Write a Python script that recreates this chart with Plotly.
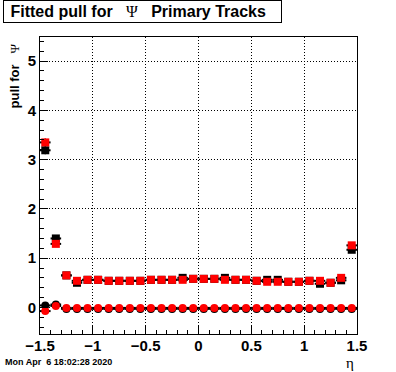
import plotly.graph_objects as go

# Bin centers in eta (30 bins of width 0.1 from -1.5 to 1.5)
eta = [round(-1.45 + 0.1 * i, 2) for i in range(30)]
half_width = [0.05] * 30

# Fitted pull (width) - squares
black_sq = [3.19, 1.40, 0.65, 0.50, 0.56, 0.56, 0.54, 0.54, 0.54, 0.54,
            0.56, 0.56, 0.56, 0.60, 0.58, 0.58, 0.58, 0.60, 0.56, 0.56,
            0.54, 0.56, 0.56, 0.52, 0.52, 0.54, 0.48, 0.50, 0.55, 1.17]
red_sq = [3.35, 1.29, 0.65, 0.54, 0.56, 0.56, 0.54, 0.54, 0.54, 0.54,
          0.56, 0.56, 0.56, 0.56, 0.58, 0.58, 0.58, 0.56, 0.56, 0.56,
          0.54, 0.52, 0.52, 0.52, 0.52, 0.54, 0.54, 0.50, 0.60, 1.26]
# Fitted pull (mean) - circles
black_ci = [0.04, 0.06, -0.03, -0.03, -0.03, -0.03, -0.03, -0.03, -0.03, -0.03,
            -0.03, -0.03, -0.03, -0.03, -0.03, -0.03, -0.03, -0.03, -0.03, -0.03,
            -0.03, -0.03, -0.03, -0.03, -0.03, -0.03, -0.03, -0.03, -0.03, -0.03]
red_ci = [-0.075, 0.03, -0.01, -0.01, -0.01, -0.01, -0.01, -0.01, -0.01, -0.01,
          -0.01, -0.01, -0.01, -0.01, -0.01, -0.01, -0.01, -0.01, -0.01, -0.01,
          -0.01, -0.01, -0.01, -0.01, -0.01, -0.01, -0.01, -0.01, -0.01, -0.01]
err_sq = [0.08, 0.05] + [0.02] * 28
err_ci = [0.03, 0.03] + [0.01] * 28

x_ticks = [-1.5, -1, -0.5, 0, 0.5, 1, 1.5]
x_ticklabels = ["−1.5", "−1", "−0.5", "0", "0.5", "1", "1.5"]
y_ticks = [0, 1, 2, 3, 4, 5]

fig = go.Figure()

def add_series(y, err, color, symbol):
    fig.add_trace(go.Scatter(
        x=eta, y=y, mode="markers",
        marker=dict(color=color, symbol=symbol, size=8, line=dict(width=0)),
        error_x=dict(type="data", array=half_width, color="black", thickness=2, width=0),
        error_y=dict(type="data", array=err, color="black", thickness=1.5, width=0),
        showlegend=False, hoverinfo="skip",
    ))

add_series(black_sq, err_sq, "black", "square")
add_series(red_sq, err_sq, "#ff0000", "square")
add_series(black_ci, err_ci, "black", "circle")
add_series(red_ci, err_ci, "#ff0000", "circle")

axis_font = dict(family="Liberation Sans, Arial, sans-serif", size=15, color="black", weight="bold")
NB = "\u00a0"

fig.update_layout(
    width=396, height=372,
    margin=dict(l=40, r=39, t=37, b=38),
    paper_bgcolor="white", plot_bgcolor="white",
    xaxis=dict(
        range=[-1.5, 1.5], tickvals=x_ticks, ticktext=x_ticklabels,
        ticks="inside", ticklen=8, tickcolor="black", tickwidth=1,
        minor=dict(dtick=0.1, tick0=-1.5, ticks="inside", ticklen=4, tickcolor="black", showgrid=False),
        showgrid=True, gridcolor="black", griddash="1px,2px", gridwidth=1,
        showline=True, linecolor="black", linewidth=1, mirror=True,
        zeroline=False, tickfont=axis_font, ticklabelstandoff=-2,
    ),
    yaxis=dict(
        range=[-0.54, 5.49], tickvals=y_ticks,
        ticks="inside", ticklen=8, tickcolor="black", tickwidth=1,
        minor=dict(dtick=0.2, tick0=0, ticks="inside", ticklen=4, tickcolor="black", showgrid=False),
        showgrid=True, gridcolor="black", griddash="1px,2px", gridwidth=1,
        showline=True, linecolor="black", linewidth=1, mirror=True,
        zeroline=False, tickfont=axis_font,
    ),
    annotations=[
        dict(text=NB + "<b>Fitted pull for</b>" + NB * 3 + "<span style='font-family:Liberation Serif;font-weight:normal'>Ψ</span>" + NB * 3 + "<b>Primary Tracks</b>" + NB * 3,
             xref="paper", yref="paper", x=-37/317, y=1 + 14/297, xanchor="left", yanchor="bottom",
             showarrow=False,
             font=dict(family="Liberation Sans, Arial, sans-serif", size=16, color="black"),
             bordercolor="black", borderwidth=1, borderpad=2, bgcolor="white", align="left"),
        dict(text="<b>pull for</b>" + NB * 3 + "<span style='font-family:Liberation Serif;font-weight:normal'>Ψ</span>",
             xref="paper", yref="paper", x=-26/317, y=1 - 5/297, xanchor="center", yanchor="top",
             textangle=-90, showarrow=False,
             font=dict(family="Liberation Sans, Arial, sans-serif", size=13, color="black")),
        dict(text="η", xref="paper", yref="paper", x=1 - 7/317, y=-29/297,
             xanchor="center", yanchor="middle", showarrow=False,
             font=dict(family="Liberation Serif, serif", size=15, color="black")),
        dict(text="<b>Mon Apr  6 18:02:28 2020</b>", xref="paper", yref="paper",
             x=-37/317, y=-28/297, xanchor="left", yanchor="middle", showarrow=False,
             font=dict(family="Liberation Sans, Arial, sans-serif", size=9, color="black")),
    ],
)

fig.write_html("out.html", config={"displayModeBar": False},
               post_script="document.body.style.margin='0';")
